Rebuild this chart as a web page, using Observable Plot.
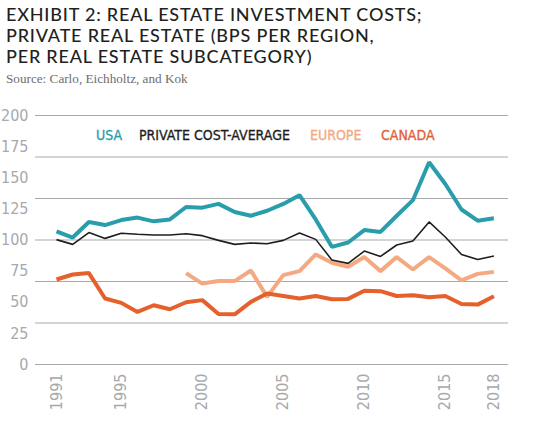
<!DOCTYPE html>
<html>
<head>
<meta charset="utf-8">
<script src="https://cdn.jsdelivr.net/npm/d3@7"></script>
<script src="https://cdn.jsdelivr.net/npm/@observablehq/plot@0.6"></script>
<style>
  html, body { margin: 0; padding: 0; background: #fff; }
  body { width: 533px; height: 431px; position: relative; overflow: hidden; }
  .title { position: absolute; left: 6px; top: 4px; font-family: Lato, "Noto Sans", sans-serif; font-size: 18px; line-height: 21px; color: #231f20; font-weight: 500; letter-spacing: 0.8px; white-space: nowrap; }
  .source { position: absolute; left: 6px; top: 71px; font-family: "Liberation Serif", serif; font-size: 13.2px; color: #6d6e70; white-space: nowrap; }
  #chart { position: absolute; left: 0; top: 100px; }
  .legend { position: absolute; top: 128px; left: 0; width: 533px; height: 16px; font-family: "Liberation Sans Narrow", "DejaVu Sans Condensed", "Roboto", sans-serif; font-stretch: condensed; font-size: 14px; line-height: 14px; font-weight: normal; -webkit-text-stroke: 0.3px currentColor; }
  .legend span { position: absolute; top: 0; white-space: nowrap; }
</style>
</head>
<body>
<div class="title">EXHIBIT 2: REAL ESTATE INVESTMENT COSTS;<br>PRIVATE REAL ESTATE (BPS PER REGION,<br>PER REAL ESTATE SUBCATEGORY)</div>
<div class="source">Source: Carlo, Eichholtz, and Kok</div>
<div id="chart"></div>
<div class="legend" id="legend"></div>
<script>
// ---- data ----
const years = [1991,1992,1993,1994,1995,1996,1997,1998,1999,2000,2001,2002,2003,2004,2005,2006,2007,2008,2009,2010,2011,2012,2013,2014,2015,2016,2017,2018];
const usa = [107,102,114.5,112,116,118,115,116.5,126.5,126,129,122.5,119.5,123.5,129,136,116.5,94.5,98,108,106.5,119.5,132,162.5,145,124.5,115.5,117.5];
const privateAvg = [100.3,96.5,106,101.3,105.4,104.6,104,104,105,103.5,99.7,96.5,97.6,97,99.7,105.6,100.5,84,81.2,91.1,86.8,96,99.2,114.5,102.4,88.4,84.4,87.1];
const europe = [null,null,null,null,null,null,null,null,73.4,65,67,67,75.5,54.3,71.8,75,88.4,81.7,78.5,86.3,75,86.3,76.3,86.3,77.2,67.5,72.8,74.4];
const canada = [68.3,72.3,73.4,53,49.5,42.2,47.6,44.4,50,51.7,40.6,40.3,50.3,57,55,53,55,52.4,52.7,59.2,58.9,55,55.6,54,55,48.6,48.1,54.8];
const seriesNames = ["USA", "PRIVATE COST-AVERAGE", "EUROPE", "CANADA"];
const xTicks = [1991, 1995, 2000, 2005, 2010, 2015, 2018];
const yTicks = [0, 25, 50, 75, 100, 125, 150, 175, 200];
const gridValues = [0, 200/6, 400/6, 100, 800/6, 1000/6, 200];

const colors = { "USA": "#2a9dad", "PRIVATE COST-AVERAGE": "#1e1e1e", "EUROPE": "#f4a982", "CANADA": "#e6602b" };
const widths = { "USA": 4, "PRIVATE COST-AVERAGE": 1.6, "EUROPE": 4, "CANADA": 4 };
const values = { "USA": usa, "PRIVATE COST-AVERAGE": privateAvg, "EUROPE": europe, "CANADA": canada };

const rows = s => years.map((y, i) => ({ year: y, value: values[s][i] == null ? NaN : values[s][i] }));
const lineFor = s => Plot.line(rows(s), { x: "year", y: "value", stroke: colors[s], strokeWidth: widths[s], strokeLinejoin: "miter", strokeLinecap: "butt" });

const axisFont = '"Liberation Sans Narrow", "DejaVu Sans Condensed", Roboto, sans-serif';

const chart = Plot.plot({
  width: 533,
  height: 331,
  marginLeft: 35,
  marginRight: 25,
  marginTop: 15,
  marginBottom: 67,
  style: { fontFamily: axisFont, fontSize: "16px", color: "#a7a9ac", background: "transparent", fontStretch: "condensed" },
  x: { domain: [1991, 2018], insetLeft: 21, insetRight: 14.6 },
  y: { domain: [0, 200] },
  marks: [
    Plot.ruleY(gridValues, { stroke: "#a7a9ac", strokeWidth: 1 }),
    lineFor("EUROPE"),
    lineFor("CANADA"),
    lineFor("USA"),
    lineFor("PRIVATE COST-AVERAGE"),
    Plot.axisY({ ticks: yTicks, tickSize: 0, tickPadding: 7, label: null, fill: "#a7a9ac" }),
    Plot.axisX({ ticks: xTicks, tickFormat: d => String(d), tickRotate: -90, tickSize: 0, tickPadding: 9, label: null, fill: "#a7a9ac" })
  ]
});
document.getElementById("chart").appendChild(chart);

const legendX = { "USA": 96, "PRIVATE COST-AVERAGE": 139, "EUROPE": 310, "CANADA": 381 };
const legend = document.getElementById("legend");
seriesNames.forEach(s => {
  const sp = document.createElement("span");
  sp.textContent = s;
  sp.style.left = legendX[s] + "px";
  sp.style.color = s === "CANADA" ? "#e0603d" : colors[s];
  legend.appendChild(sp);
});
</script>
</body>
</html>
